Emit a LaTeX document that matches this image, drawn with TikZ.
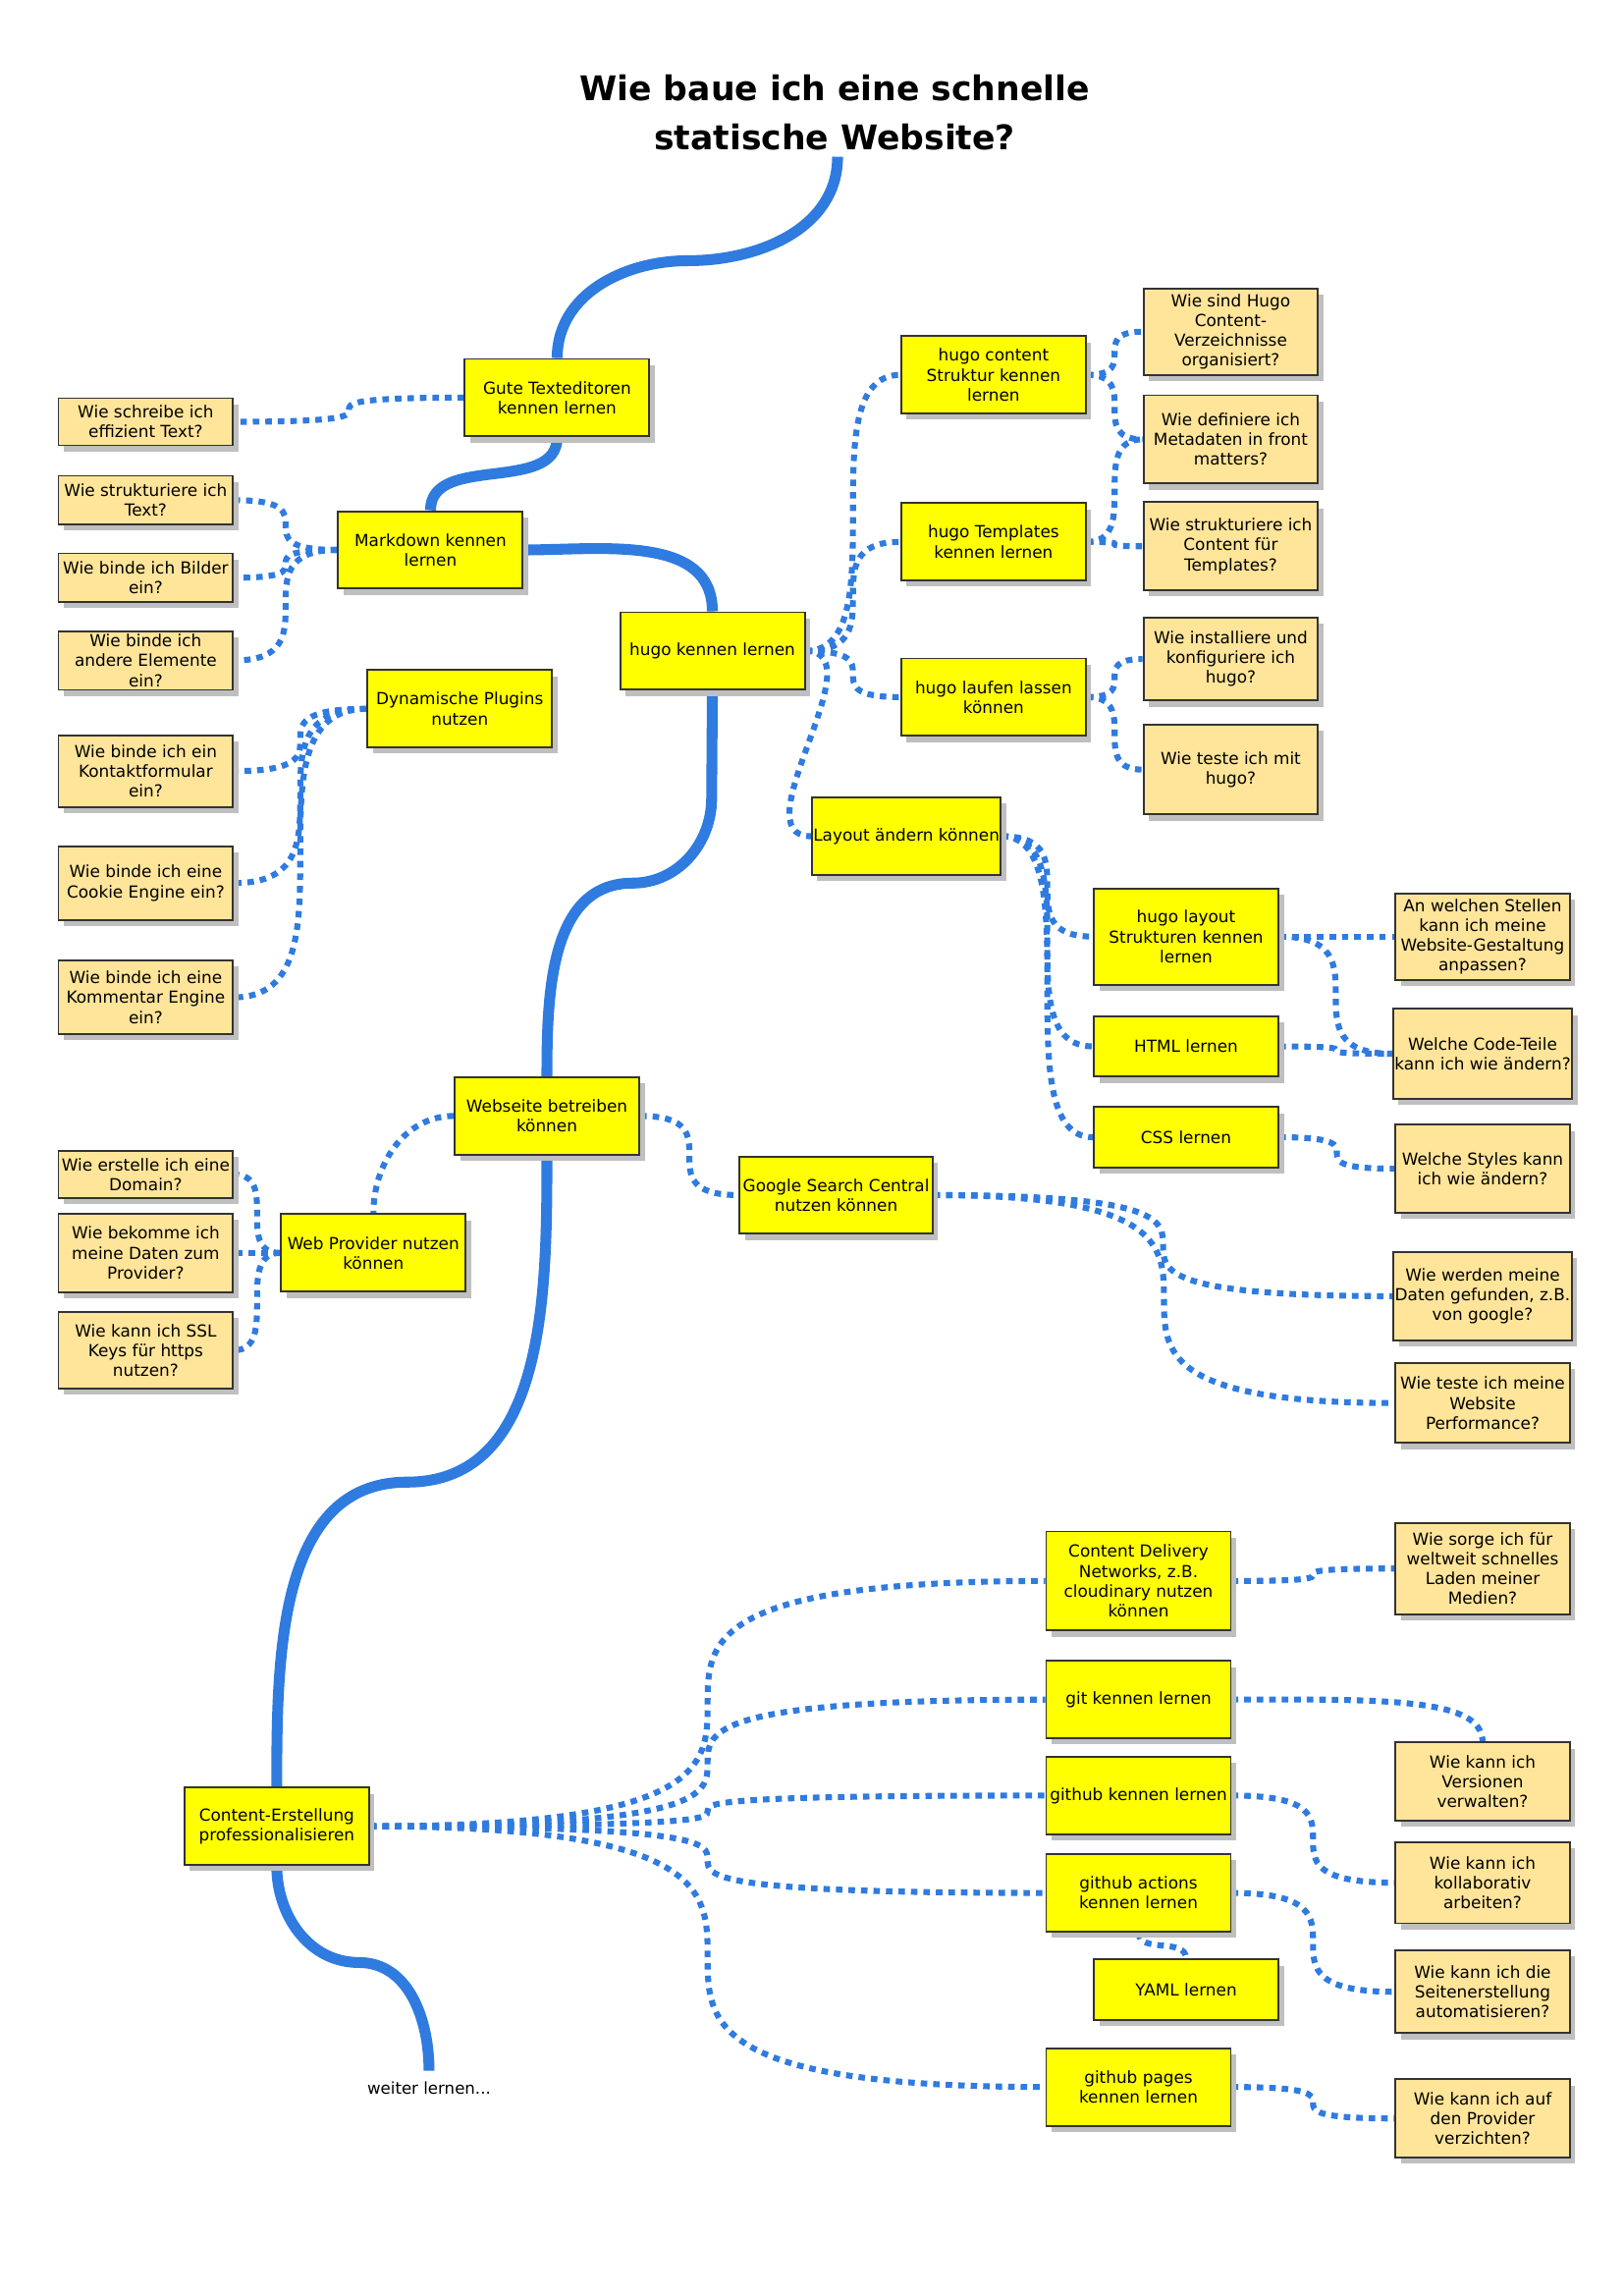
\documentclass[tikz,border=0pt]{standalone}
\usepackage{fontspec}
\setmainfont{DejaVu Sans}
\usepackage{xcolor}
\usepackage{tikz}
\usetikzlibrary{shapes,arrows,positioning,calc,shadows}
\pgfdeclarelayer{background}
\pgfsetlayers{background,main}

\definecolor{mapblue}{RGB}{47,123,224}
\definecolor{mapyellow}{RGB}{255,255,0}
\definecolor{maptan}{RGB}{255,229,153}
\definecolor{mapborder}{RGB}{51,51,51}

\begin{document}
\begin{tikzpicture}[x=0.01894cm, y=-0.01894cm,
    map box/.style={draw=mapborder, line width=0.7pt, rectangle, align=center, inner xsep=0.5pt, inner ysep=1pt,
        font=\fontsize{6.1}{7.3}\selectfont,
        drop shadow={shadow xshift=0.07cm, shadow yshift=-0.08cm, fill=black!25, opacity=1}},
    topic box/.style={map box, fill=mapyellow, minimum width=2.387cm, minimum height=1cm},
    question box/.style={map box, fill=maptan, minimum width=2.258cm, minimum height=1.1cm},
    spine/.style={draw=mapblue, line width=4pt},
    dotline/.style={draw=mapblue, line width=2.2pt, dash pattern=on 2.4pt off 2.2pt}]
    \useasboundingbox (0cm,0cm) rectangle (21cm,-29.686cm);

    \node[font=\bfseries\fontsize{12.5}{18}\selectfont, align=center] (title) at (570,77) {Wie baue ich eine schnelle\\statische Website?};
    \coordinate (top) at (572,107);
    \node[font=\fontsize{6}{7}\selectfont, inner sep=4pt] (weiter) at (293,1426) {weiter lernen...};

    % topics
    \node[topic box] (gute) at (380.5,271.5) {Gute Texteditoren\\kennen lernen};
    \node[topic box] (markdown) at (294,375.5) {Markdown kennen\\lernen};
    \node[topic box] (hugo) at (486.5,444.5) {hugo kennen lernen};
    \node[topic box] (plugins) at (314,484) {Dynamische Plugins\\nutzen};
    \node[topic box] (webseite) at (373.5,762) {Webseite betreiben\\können};
    \node[topic box] (wprovider) at (255,855.5) {Web Provider nutzen\\können};
    \node[topic box, minimum width=2.496cm] (google) at (571,816) {Google Search Central\\nutzen können};
    \node[topic box] (content) at (189,1247) {Content-Erstellung\\professionalisieren};
    \node[topic box] (hcontent) at (678.5,256) {hugo content\\Struktur kennen\\lernen};
    \node[topic box] (htemplates) at (678.5,370) {hugo Templates\\kennen lernen};
    \node[topic box] (hlaufen) at (678.5,476) {hugo laufen lassen\\können};
    \node[topic box] (layout) at (619,571) {Layout ändern können};
    \node[topic box, minimum height=1.24cm] (hlayout) at (810,639.5) {hugo layout\\Strukturen kennen\\lernen};
    \node[topic box, minimum height=0.78cm] (html) at (810,714.5) {HTML lernen};
    \node[topic box, minimum height=0.78cm] (css) at (810,776.5) {CSS lernen};
    \node[topic box, minimum height=1.28cm] (cdn) at (777.5,1079.5) {Content Delivery\\Networks, z.B.\\cloudinary nutzen\\können};
    \node[topic box] (git) at (777.5,1160.5) {git kennen lernen};
    \node[topic box] (github) at (777.5,1226) {github kennen lernen};
    \node[topic box] (actions) at (777.5,1292.5) {github actions\\kennen lernen};
    \node[topic box, minimum height=0.78cm] (yaml) at (810,1358.5) {YAML lernen};
    \node[topic box] (pages) at (777.5,1425) {github pages\\kennen lernen};

    % questions
    \node[question box, minimum height=0.61cm] (schreibe) at (99.5,288) {Wie schreibe ich\\effizient Text?};
    \node[question box, minimum height=0.63cm] (strukturt) at (99.5,341.5) {Wie strukturiere ich\\Text?};
    \node[question box, minimum height=0.63cm] (bilder) at (99.5,394.5) {Wie binde ich Bilder\\ein?};
    \node[question box, minimum height=0.76cm] (andere) at (99.5,451) {Wie binde ich\\andere Elemente\\ein?};
    \node[question box, minimum height=0.93cm] (kontakt) at (99.5,526.5) {Wie binde ich ein\\Kontaktformular\\ein?};
    \node[question box, minimum height=0.95cm] (cookie) at (99.5,603) {Wie binde ich eine\\Cookie Engine ein?};
    \node[question box, minimum height=0.95cm] (kommentar) at (99.5,681) {Wie binde ich eine\\Kommentar Engine\\ein?};
    \node[question box, minimum height=0.61cm] (domain) at (99.5,802) {Wie erstelle ich eine\\Domain?};
    \node[question box, minimum height=1.01cm] (daten) at (99.5,855.5) {Wie bekomme ich\\meine Daten zum\\Provider?};
    \node[question box, minimum height=0.99cm] (ssl) at (99.5,922) {Wie kann ich SSL\\Keys für https\\nutzen?};
    \node[question box, minimum height=1.12cm] (wiesind) at (840.5,226.5) {Wie sind Hugo\\Content-\\Verzeichnisse\\organisiert?};
    \node[question box, minimum height=1.14cm] (definiere) at (840.5,300) {Wie definiere ich\\Metadaten in front\\matters?};
    \node[question box, minimum height=1.14cm] (strukturc) at (840.5,373) {Wie strukturiere ich\\Content für\\Templates?};
    \node[question box, minimum height=1.07cm] (installiere) at (840.5,450) {Wie installiere und\\konfiguriere ich\\hugo?};
    \node[question box, minimum height=1.16cm] (testehugo) at (840.5,525.5) {Wie teste ich mit\\hugo?};
    \node[question box, minimum height=1.12cm] (anwelchen) at (1012.5,639.5) {An welchen Stellen\\kann ich meine\\Website-Gestaltung\\anpassen?};
    \node[question box, minimum height=1.16cm] (codeteile) at (1012.5,719.5) {Welche Code-Teile\\kann ich wie ändern?};
    \node[question box, minimum height=1.14cm] (styles) at (1012.5,798) {Welche Styles kann\\ich wie ändern?};
    \node[question box, minimum height=1.14cm] (werden) at (1012.5,885) {Wie werden meine\\Daten gefunden, z.B.\\von google?};
    \node[question box, minimum height=1.03cm] (performance) at (1012.5,958) {Wie teste ich meine\\Website\\Performance?};
    \node[question box, minimum height=1.18cm] (sorge) at (1012.5,1071) {Wie sorge ich für\\weltweit schnelles\\Laden meiner\\Medien?};
    \node[question box, minimum height=1.01cm] (versionen) at (1012.5,1216.5) {Wie kann ich\\Versionen\\verwalten?};
    \node[question box, minimum height=1.05cm] (kollab) at (1012.5,1285.5) {Wie kann ich\\kollaborativ\\arbeiten?};
    \node[question box, minimum height=1.07cm] (seiten) at (1012.5,1360) {Wie kann ich die\\Seitenerstellung\\automatisieren?};
    \node[question box, minimum height=1.01cm] (verzichten) at (1012.5,1446.5) {Wie kann ich auf\\den Provider\\verzichten?};

    \begin{pgfonlayer}{background}
    % main path
    \draw[spine] (top) to[out=-90,in=0] (470,178) to[out=180,in=90] (gute.north);
    \draw[spine] (gute.south) to[out=-90,in=90] (markdown.north);
    \draw[spine] (markdown.east) to[out=0,in=90] (hugo.north);
    \draw[spine] (hugo.south) -- (486,545) to[out=-90,in=0] (432,603) to[out=180,in=90] (webseite.north);
    \draw[spine] (webseite.south) to[out=-90,in=0] (278,1012) to[out=180,in=90] (content.north);
    \draw[spine] (content.south) to[out=-90,in=180] (245,1340) to[out=0,in=90] (weiter.north);

    % left side
    \draw[dotline] (gute.west) .. controls (schreibe.east |- gute.west) and (gute.west |- schreibe.east) .. (schreibe.east);
    \foreach \q in {strukturt,bilder,andere}
        \draw[dotline] (markdown.west) .. controls (\q.east |- markdown.west) and (markdown.west |- \q.east) .. (\q.east);
    \foreach \q in {kontakt,cookie,kommentar}
        \draw[dotline] (plugins.west) .. controls (\q.east |- plugins.west) and (plugins.west |- \q.east) .. (\q.east);
    \draw[dotline] (webseite.west) to[out=180,in=90] (wprovider.north);
    \foreach \q in {domain,daten,ssl}
        \draw[dotline] (wprovider.west) .. controls (\q.east |- wprovider.west) and (wprovider.west |- \q.east) .. (\q.east);

    % hugo
    \foreach \t in {hcontent,htemplates,hlaufen}
        \draw[dotline] (hugo.east) .. controls (\t.west |- hugo.east) and (hugo.east |- \t.west) .. (\t.west);
    \draw[dotline] (hugo.east) to[out=0,in=180] (layout.west);
    \foreach \q in {wiesind,definiere}
        \draw[dotline] (hcontent.east) .. controls (\q.west |- hcontent.east) and (hcontent.east |- \q.west) .. (\q.west);
    \foreach \q in {definiere,strukturc}
        \draw[dotline] (htemplates.east) .. controls (\q.west |- htemplates.east) and (htemplates.east |- \q.west) .. (\q.west);
    \foreach \q in {installiere,testehugo}
        \draw[dotline] (hlaufen.east) .. controls (\q.west |- hlaufen.east) and (hlaufen.east |- \q.west) .. (\q.west);
    \foreach \t in {hlayout,html,css}
        \draw[dotline] (layout.east) .. controls (\t.west |- layout.east) and (layout.east |- \t.west) .. (\t.west);
    \foreach \q in {anwelchen,codeteile}
        \draw[dotline] (hlayout.east) .. controls (\q.west |- hlayout.east) and (hlayout.east |- \q.west) .. (\q.west);
    \draw[dotline] (html.east) .. controls (codeteile.west |- html.east) and (html.east |- codeteile.west) .. (codeteile.west);
    \draw[dotline] (css.east) .. controls (styles.west |- css.east) and (css.east |- styles.west) .. (styles.west);

    % betreiben
    \draw[dotline] (webseite.east) .. controls (google.west |- webseite.east) and (webseite.east |- google.west) .. (google.west);
    \foreach \q in {werden,performance}
        \draw[dotline] (google.east) .. controls (\q.west |- google.east) and (google.east |- \q.west) .. (\q.west);

    % content
    \foreach \t in {cdn,git,github,actions,pages}
        \draw[dotline] (content.east) .. controls (\t.west |- content.east) and (content.east |- \t.west) .. (\t.west);
    \draw[dotline] (cdn.east) .. controls (sorge.west |- cdn.east) and (cdn.east |- sorge.west) .. (sorge.west);
    \draw[dotline] (git.east) .. controls (950,1160) and (1012,1160) .. (versionen.north);
    \draw[dotline] (github.east) .. controls (kollab.west |- github.east) and (github.east |- kollab.west) .. (kollab.west);
    \draw[dotline] (actions.east) .. controls (seiten.west |- actions.east) and (actions.east |- seiten.west) .. (seiten.west);
    \draw[dotline] (actions.south) to[out=-90,in=90] (yaml.north);
    \draw[dotline] (pages.east) .. controls (verzichten.west |- pages.east) and (pages.east |- verzichten.west) .. (verzichten.west);
    \end{pgfonlayer}

\end{tikzpicture}
\end{document}
